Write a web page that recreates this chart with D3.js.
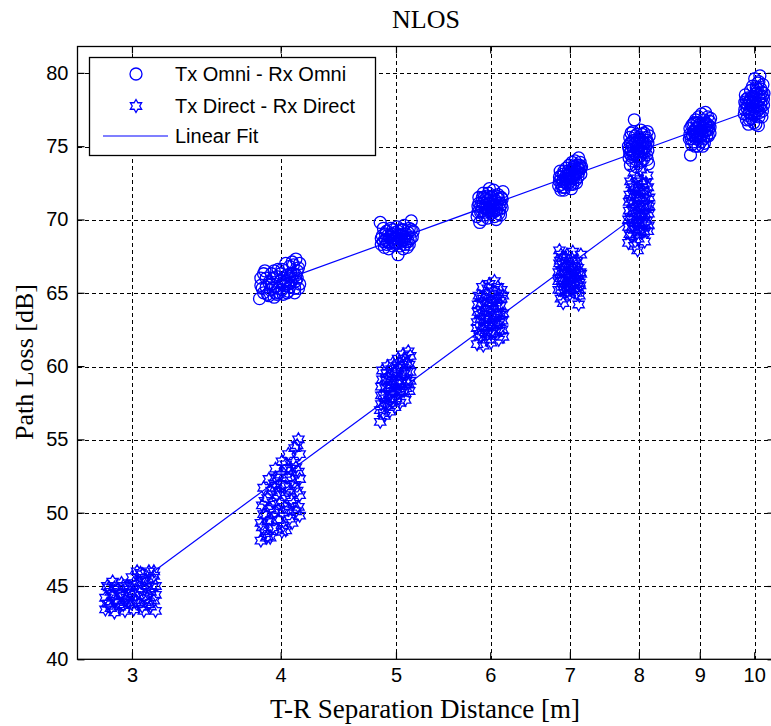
<!DOCTYPE html>
<html>
<head>
<meta charset="utf-8">
<script src="https://cdn.jsdelivr.net/npm/d3@7"></script>
<style>
  body { margin: 0; background: #fff; }
  svg { display: block; }
</style>
</head>
<body>
<div id="canvas"></div>
<script>
// axis ticks
var xTicks = [3, 4, 5, 6, 7, 8, 9, 10];
var yTicks = [40, 45, 50, 55, 60, 65, 70, 75, 80];
var xDomain = [2.7, 10.4];
var yDomain = [40, 81.8];

// Tx Omni - Rx Omni measurements [distance m, path loss dB]
var omni4 = [[3.84,64.6],[3.86,65.3],[3.85,66.0],[3.88,66.5],[3.90,64.9],[3.91,65.7],[3.93,66.3],[3.95,64.7],[3.96,65.4],[3.97,66.1],[3.99,65.0],[4.00,65.8],[4.01,66.6],[4.02,64.9],[4.03,65.5],[4.05,66.2],[4.06,65.1],[4.07,66.8],[4.08,65.7],[4.09,67.1],[4.10,66.3],[4.11,65.3],[4.12,67.3],[4.13,66.0],[4.14,66.7],[4.15,65.6],[4.15,67.0],[3.87,65.0],[3.92,65.2],[3.98,66.6],[4.04,67.0],[4.11,65.0],[3.89,66.0],[3.94,66.0],[4.06,65.6],
	[3.85,65.5],[3.87,66.3],[3.89,65.4],[3.91,64.8],[3.93,65.6],[3.95,66.5],[3.96,65.0],[3.98,65.3],[4.00,66.3],[4.01,65.2],[4.03,66.0],[4.04,65.8],[4.05,65.0],[4.07,65.4],[4.08,66.3],[4.09,65.9],[4.10,66.9],[4.12,65.8],[4.13,66.5],[4.14,65.3],[4.12,66.2],[3.94,65.3],[4.02,65.7],[3.97,64.9],[4.07,66.1]];
var omni5 = [[4.85,69.8],[4.86,68.3],[4.87,68.9],[4.89,68.1],[4.90,68.6],[4.91,69.2],[4.93,68.0],[4.94,68.8],[4.95,69.4],[4.97,68.2],[4.98,68.7],[4.99,69.1],[5.00,68.4],[5.01,69.5],[5.02,67.6],[5.03,68.9],[5.04,68.2],[5.05,69.3],[5.06,68.6],[5.08,69.6],[5.09,68.3],[5.10,69.0],[5.12,68.5],[5.13,69.4],[5.15,69.9],[5.16,68.8],[5.17,69.2],[4.92,68.5],[4.96,69.0],[5.07,68.0],[5.11,68.1],[4.88,69.4],
	[4.86,68.7],[4.88,68.5],[4.90,69.0],[4.92,68.9],[4.94,68.4],[4.95,68.9],[4.97,69.3],[4.98,68.5],[5.00,68.9],[5.01,68.7],[5.02,69.2],[5.03,68.4],[5.05,68.9],[5.06,69.0],[5.07,69.3],[5.09,68.8],[5.10,68.5],[5.12,69.1],[5.14,68.7],[5.15,69.3],[4.91,68.3],[4.99,68.3],[5.04,68.7],[5.08,68.6],[5.13,68.3]];
var omni6 = [[5.85,70.2],[5.86,70.9],[5.87,71.5],[5.88,69.8],[5.89,70.5],[5.90,71.2],[5.92,71.8],[5.93,70.3],[5.94,70.8],[5.95,71.4],[5.97,70.1],[5.98,70.7],[5.99,72.1],[6.00,71.1],[6.01,70.4],[6.02,71.6],[6.03,70.9],[6.04,72.0],[6.05,70.2],[6.06,71.3],[6.08,70.7],[6.09,71.7],[6.10,70.4],[6.11,71.1],[6.13,71.5],[6.14,70.8],[6.15,71.9],[5.91,70.0],[5.96,71.6],[6.07,70.0],[6.12,70.3],
	[5.86,70.5],[5.87,71.1],[5.89,70.9],[5.90,70.6],[5.92,71.1],[5.93,71.5],[5.94,70.5],[5.96,70.8],[5.97,71.3],[5.99,70.6],[6.00,70.9],[6.01,71.5],[6.02,70.6],[6.03,71.2],[6.05,71.0],[6.06,70.6],[6.07,71.6],[6.08,71.1],[6.10,71.4],[6.11,70.7],[6.13,71.0],[6.14,71.4],[5.91,71.5],[6.04,70.5],[5.98,71.8]];
var omni7 = [[6.85,72.3],[6.86,72.9],[6.87,73.3],[6.88,72.0],[6.90,72.6],[6.91,73.1],[6.93,72.2],[6.94,72.8],[6.95,73.5],[6.97,72.4],[6.98,73.0],[6.99,73.7],[7.00,72.6],[7.01,73.3],[7.02,72.1],[7.03,73.9],[7.05,72.8],[7.06,73.4],[7.07,74.0],[7.08,73.1],[7.10,73.7],[7.11,72.9],[7.12,74.2],[7.13,73.4],[7.14,73.9],[7.15,73.1],[7.16,73.6],[6.92,72.0],[7.04,72.4],[7.09,72.5],
	[6.86,72.6],[6.88,72.9],[6.89,72.4],[6.91,72.7],[6.92,73.3],[6.94,72.5],[6.95,73.0],[6.96,72.7],[6.98,73.3],[6.99,72.8],[7.00,73.1],[7.02,72.9],[7.03,73.4],[7.04,73.0],[7.06,73.0],[7.07,73.6],[7.08,72.7],[7.09,73.3],[7.11,73.5],[7.12,73.2],[7.13,73.7],[7.15,73.5],[6.90,72.2],[7.05,73.6],[7.01,72.4]];
var omni8 = [[7.84,75.0],[7.85,74.2],[7.86,75.6],[7.87,73.7],[7.88,74.7],[7.89,75.3],[7.90,74.0],[7.91,76.0],[7.93,76.8],[7.94,74.5],[7.95,75.2],[7.96,73.6],[7.97,75.8],[7.98,74.3],[7.99,75.0],[8.00,74.8],[8.01,75.5],[8.02,73.9],[8.03,76.1],[8.05,74.6],[8.06,75.3],[8.07,74.1],[8.08,75.9],[8.10,74.9],[8.11,75.6],[8.12,74.4],[8.13,76.0],[8.14,75.2],[8.15,73.8],[8.16,75.7],[7.92,74.4],[8.04,74.0],
	[7.85,74.8],[7.86,74.5],[7.87,75.2],[7.88,75.9],[7.90,75.0],[7.91,74.6],[7.92,75.4],[7.94,75.7],[7.95,74.1],[7.96,74.9],[7.97,75.3],[7.99,74.6],[8.00,75.6],[8.01,74.3],[8.02,75.0],[8.04,75.4],[8.05,75.8],[8.06,74.9],[8.08,74.6],[8.09,75.2],[8.11,75.0],[8.12,75.4],[8.14,74.7],[7.89,74.3],[8.03,74.7],[8.13,74.1]];
var omni9 = [[8.82,75.5],[8.83,76.2],[8.84,74.4],[8.86,75.1],[8.87,75.8],[8.88,76.5],[8.90,75.3],[8.91,76.0],[8.93,76.8],[8.94,75.5],[8.95,76.3],[8.97,75.0],[8.98,77.0],[8.99,75.9],[9.00,76.5],[9.02,75.3],[9.03,77.2],[9.04,76.0],[9.06,75.6],[9.07,76.8],[9.08,75.2],[9.10,77.3],[9.11,76.4],[9.12,75.7],[9.14,77.0],[9.15,76.1],[9.17,76.7],[9.18,75.9],[9.19,76.9],[8.92,75.0],[9.05,75.0],
	[8.83,75.8],[8.85,75.5],[8.86,76.4],[8.88,75.7],[8.89,76.0],[8.90,76.6],[8.92,75.7],[8.93,76.2],[8.95,75.8],[8.96,76.6],[8.97,75.6],[8.99,76.3],[9.00,75.6],[9.01,76.1],[9.03,75.8],[9.04,76.5],[9.06,76.2],[9.07,75.5],[9.09,76.0],[9.10,76.6],[9.12,76.1],[9.13,76.5],[9.15,75.7],[9.16,76.4],[9.18,76.3]];
var omni10 = [[9.81,77.2],[9.82,78.0],[9.83,78.5],[9.85,76.8],[9.86,77.6],[9.88,78.3],[9.89,76.5],[9.91,77.3],[9.92,78.1],[9.93,78.8],[9.95,76.9],[9.96,77.8],[9.97,79.1],[9.98,78.4],[10.00,77.1],[10.01,79.6],[10.02,78.0],[10.03,76.5],[10.05,78.6],[10.06,77.4],[10.07,79.3],[10.08,76.4],[10.10,78.2],[10.11,79.8],[10.12,77.6],[10.13,78.9],[10.15,77.0],[10.16,78.4],[10.17,79.2],[10.18,77.8],[10.19,78.6],[9.99,76.6],[10.09,77.0],
	[9.82,77.5],[9.84,77.9],[9.85,78.2],[9.87,77.1],[9.88,77.8],[9.90,78.0],[9.91,76.8],[9.93,77.5],[9.94,78.3],[9.96,77.2],[9.97,78.0],[9.99,77.7],[10.00,78.3],[10.02,77.4],[10.03,78.6],[10.04,77.8],[10.06,78.9],[10.07,77.7],[10.09,78.5],[10.10,77.3],[10.12,78.4],[10.13,77.9],[10.15,78.7],[10.16,77.4],[10.18,78.2],[10.04,79.0],[10.09,79.4]];

// Tx Direct - Rx Direct measurements [distance m, path loss dB]
var direct3 = [[2.85,43.4],[2.85,44.2],[2.86,45.0],[2.87,43.8],[2.88,44.6],[2.89,45.3],[2.90,43.2],[2.91,44.0],[2.92,44.8],[2.93,43.6],[2.94,45.2],[2.95,44.3],[2.96,43.3],[2.97,45.0],[2.98,43.9],[2.99,44.6],[3.00,45.6],[3.01,43.4],[3.02,44.4],[3.03,45.1],[3.04,43.8],[3.05,45.9],[3.06,44.8],[3.07,43.3],[3.08,45.4],[3.09,44.2],[3.10,46.0],[3.11,43.6],[3.12,44.9],[3.13,45.7],[3.14,43.3],[3.14,44.4],[3.03,46.0],[3.08,43.9],[2.87,44.9],[2.96,44.0],
	[2.86,43.8],[2.88,43.5],[2.89,44.3],[2.90,44.9],[2.92,43.9],[2.93,44.4],[2.95,43.7],[2.95,45.0],[2.97,44.2],[2.98,44.9],[3.00,43.8],[3.00,44.5],[3.01,45.2],[3.02,43.9],[3.04,44.6],[3.05,45.3],[3.06,43.6],[3.07,44.3],[3.09,45.0],[3.10,43.8],[3.11,44.6],[3.12,45.4],[3.13,44.0],[3.14,45.0],[3.13,46.0],[3.06,45.8]];
var direct4 = [[3.85,48.1],[3.85,49.3],[3.86,50.5],[3.87,51.7],[3.88,48.6],[3.89,49.8],[3.90,51.0],[3.91,52.3],[3.92,48.3],[3.93,49.5],[3.94,50.7],[3.95,52.0],[3.96,53.0],[3.97,48.9],[3.98,50.2],[3.99,51.4],[4.00,52.6],[4.01,53.5],[4.02,49.1],[4.03,50.4],[4.04,51.8],[4.05,53.0],[4.06,54.0],[4.07,49.6],[4.08,50.9],[4.09,52.2],[4.10,53.4],[4.11,54.4],[4.12,50.1],[4.13,51.5],[4.14,52.8],[4.14,55.0],[4.15,54.0],[4.15,49.8],[3.97,51.2],[4.04,48.8],[3.90,48.4],
	[3.86,49.0],[3.87,49.9],[3.88,50.8],[3.89,48.3],[3.90,49.4],[3.92,50.3],[3.93,51.5],[3.94,49.0],[3.95,50.0],[3.96,51.7],[3.98,49.5],[3.99,50.6],[4.00,51.9],[4.01,48.7],[4.02,50.0],[4.03,51.2],[4.05,52.4],[4.06,50.2],[4.07,51.5],[4.08,53.0],[4.09,49.3],[4.10,50.6],[4.11,51.9],[4.12,53.1],[4.13,54.6],[4.14,50.4],[4.15,51.2],[4.15,52.3],[3.96,52.4],[4.04,53.3]];
var direct5 = [[4.85,56.2],[4.86,57.4],[4.86,58.6],[4.87,59.7],[4.89,56.6],[4.90,57.8],[4.91,59.0],[4.92,60.0],[4.94,56.9],[4.95,58.1],[4.96,59.3],[4.97,60.2],[4.99,57.2],[5.00,58.4],[5.01,59.6],[5.02,60.5],[5.04,57.5],[5.05,58.8],[5.06,59.9],[5.07,60.8],[5.09,57.7],[5.10,59.0],[5.11,60.2],[5.12,61.0],[5.13,58.3],[5.14,59.6],[5.14,60.7],[4.88,58.0],[4.98,58.9],[5.08,58.3],[4.93,58.5],[5.03,59.0],
	[4.85,57.0],[4.86,58.0],[4.87,59.1],[4.88,56.8],[4.89,57.5],[4.90,58.5],[4.91,59.5],[4.92,57.3],[4.93,59.2],[4.94,57.7],[4.95,58.7],[4.96,59.8],[4.97,57.6],[4.98,58.3],[4.99,59.6],[5.00,57.8],[5.01,59.0],[5.02,59.9],[5.03,58.2],[5.04,60.2],[5.05,58.2],[5.06,59.3],[5.08,59.5],[5.09,60.5],[5.10,58.5],[5.11,59.6],[5.12,58.8],[5.13,60.1],[5.14,59.0],[5.07,60.3]];
var direct6 = [[5.85,61.5],[5.85,62.6],[5.86,63.7],[5.87,64.8],[5.88,62.0],[5.89,63.2],[5.90,64.3],[5.91,65.4],[5.92,61.4],[5.93,62.7],[5.94,63.8],[5.95,64.9],[5.97,62.2],[5.98,63.3],[5.99,65.6],[6.00,64.4],[6.01,61.6],[6.02,62.8],[6.03,63.9],[6.04,65.1],[6.05,65.8],[6.06,62.3],[6.07,63.5],[6.08,64.6],[6.10,61.8],[6.11,63.0],[6.12,64.1],[6.13,65.2],[6.14,62.5],[6.15,63.6],[6.15,64.8],[5.96,61.8],[6.09,65.4],
	[5.85,63.0],[5.86,64.2],[5.87,62.2],[5.88,63.5],[5.89,64.7],[5.90,62.4],[5.91,63.6],[5.92,64.6],[5.93,63.2],[5.94,62.3],[5.95,63.4],[5.96,64.3],[5.97,65.3],[5.98,62.7],[5.99,64.0],[6.00,63.0],[6.01,62.2],[6.02,64.3],[6.03,62.4],[6.04,63.3],[6.05,64.5],[6.06,63.0],[6.07,64.1],[6.08,62.8],[6.09,63.6],[6.10,64.9],[6.11,62.4],[6.12,63.5],[6.13,64.6],[6.14,63.1],[6.15,62.0]];
var direct7 = [[6.85,65.2],[6.85,66.4],[6.86,67.9],[6.87,67.2],[6.88,64.6],[6.89,65.8],[6.90,66.9],[6.92,65.4],[6.93,66.3],[6.94,67.4],[6.96,65.1],[6.97,66.0],[6.98,66.8],[7.00,64.9],[7.01,65.7],[7.02,66.6],[7.03,67.3],[7.05,65.3],[7.06,66.2],[7.07,67.0],[7.09,65.0],[7.10,65.9],[7.11,66.7],[7.12,64.2],[7.13,64.8],[7.14,65.5],[7.15,66.3],[7.15,67.6],[6.91,64.3],[7.04,67.8],
	[6.85,65.8],[6.86,67.0],[6.87,66.0],[6.88,65.2],[6.89,66.5],[6.90,67.4],[6.91,65.8],[6.92,66.7],[6.93,65.0],[6.94,66.0],[6.95,66.8],[6.96,67.6],[6.97,65.5],[6.98,66.3],[7.00,65.4],[7.01,66.3],[7.02,65.2],[7.03,66.0],[7.04,66.8],[7.05,65.8],[7.06,66.6],[7.07,65.6],[7.08,66.4],[7.09,67.2],[7.10,65.4],[7.11,66.2],[7.13,65.7],[7.14,66.4],[6.88,67.6],[7.12,65.2]];
var direct8 = [[7.84,68.4],[7.84,69.5],[7.85,70.6],[7.86,71.7],[7.87,72.6],[7.88,68.9],[7.89,70.0],[7.90,71.1],[7.91,72.2],[7.93,68.2],[7.94,69.3],[7.95,70.4],[7.96,71.5],[7.97,72.8],[7.99,68.7],[8.00,69.8],[8.01,70.9],[8.02,72.0],[8.04,69.1],[8.05,70.2],[8.06,71.3],[8.07,72.4],[8.09,68.5],[8.10,69.6],[8.11,70.7],[8.12,71.8],[8.13,73.0],[8.14,69.2],[8.15,70.4],[8.16,71.5],[7.92,73.2],[8.03,73.4],[7.98,67.9],
	[7.84,70.0],[7.85,71.2],[7.86,69.0],[7.87,70.2],[7.88,71.4],[7.89,72.4],[7.90,69.5],[7.91,70.6],[7.92,71.7],[7.93,69.8],[7.94,70.8],[7.95,72.0],[7.96,69.0],[7.97,70.2],[7.98,71.3],[7.99,72.2],[8.00,70.4],[8.01,69.3],[8.02,71.5],[8.03,70.3],[8.04,72.6],[8.05,69.7],[8.06,70.8],[8.07,71.9],[8.08,69.2],[8.09,70.4],[8.10,71.4],[8.11,72.5],[8.12,69.9],[8.13,71.0],[8.14,72.2],[8.15,69.6],[8.16,70.9]];

// linear fits (end points)
var fitOmniD = [4, 10];
var fitOmniPL = [65.8, 77.5];
var fitDirectD = [3, 8];
var fitDirectPL = [44.9, 70.4];

var legendLabels = ["Tx Omni - Rx Omni", "Tx Direct - Rx Direct", "Linear Fit"];

var blue = "#0000ff";
var margin = { top: 46.5, left: 77.5 },
	width = 697,
	height = 612.8;

var svg = d3.select("#canvas")
	.append("svg")
	.attr("width", 771)
	.attr("height", 726);

var g = svg.append("g")
	.attr("transform", "translate(" + margin.left + "," + margin.top + ")");

var x = d3.scaleLog().domain(xDomain).range([0, width]);
var y = d3.scaleLinear().domain(yDomain).range([height, 0]);

// grid lines
g.append("g").selectAll("line")
	.data(xTicks)
	.join("line")
	.attr("x1", d => Math.round(x(d)) + 0.5).attr("x2", d => Math.round(x(d)) + 0.5)
	.attr("y1", 0).attr("y2", height)
	.attr("stroke", "#000").attr("stroke-dasharray", "4,3")
	.attr("shape-rendering", "crispEdges");
g.append("g").selectAll("line")
	.data(yTicks.filter(d => d > 40))
	.join("line")
	.attr("y1", d => Math.round(y(d)) + 0.5).attr("y2", d => Math.round(y(d)) + 0.5)
	.attr("x1", 0).attr("x2", width)
	.attr("stroke", "#000").attr("stroke-dasharray", "4,3")
	.attr("shape-rendering", "crispEdges");

// axes with inner ticks
var fmt = d3.format("d");
var xAxis = g.append("g")
	.attr("transform", "translate(0," + height + ")")
	.call(d3.axisBottom(x).tickValues(xTicks).tickFormat(fmt).tickSizeInner(-7).tickSizeOuter(0).tickPadding(9));
var xTop = g.append("g")
	.call(d3.axisTop(x).tickValues(xTicks).tickFormat("").tickSizeInner(-7).tickSizeOuter(0));
var yAxis = g.append("g")
	.call(d3.axisLeft(y).tickValues(yTicks).tickFormat(fmt).tickSizeInner(-7).tickSizeOuter(0).tickPadding(9));
var yRight = g.append("g")
	.attr("transform", "translate(" + width + ",0)")
	.call(d3.axisRight(y).tickValues(yTicks).tickFormat("").tickSizeInner(-7).tickSizeOuter(0));

[xAxis, xTop, yAxis, yRight].forEach(function(a) {
	a.select(".domain").remove();
	a.selectAll("line").attr("stroke", "#000").attr("stroke-width", 1.2);
	a.selectAll("text")
		.attr("fill", "#000")
		.style("font-family", "Liberation Sans, Arial, sans-serif")
		.style("font-size", "20px");
});

// frame
g.append("rect")
	.attr("width", width).attr("height", height)
	.attr("fill", "none").attr("stroke", "#000").attr("stroke-width", 1.3);

// clip region for data
svg.append("clipPath").attr("id", "clip")
	.append("rect").attr("width", width).attr("height", height);
var plot = g.append("g").attr("clip-path", "url(#clip)");

// hexagram marker (MATLAB 'h')
function hexagram(R) {
	var pts = [];
	var r = R / Math.sqrt(3);
	for (var i = 0; i < 12; i++) {
		var a = -Math.PI / 2 + i * Math.PI / 6;
		var rr = i % 2 == 0 ? R : r;
		pts.push([rr * Math.cos(a), rr * Math.sin(a)]);
	}
	return "M" + pts.map(p => p[0].toFixed(2) + "," + p[1].toFixed(2)).join("L") + "Z";
}
var starPath = hexagram(6.5);

var omniData = [].concat(omni4, omni5, omni6, omni7, omni8, omni9, omni10);
var directData = [].concat(direct3, direct4, direct5, direct6, direct7, direct8);

plot.append("g").selectAll("circle")
	.data(omniData)
	.join("circle")
	.attr("cx", d => x(d[0]))
	.attr("cy", d => y(d[1]))
	.attr("r", 6)
	.attr("fill", "none")
	.attr("stroke", blue)
	.attr("stroke-width", 1.3);

plot.append("g").selectAll("path")
	.data(directData)
	.join("path")
	.attr("transform", d => "translate(" + x(d[0]) + "," + y(d[1]) + ")")
	.attr("d", starPath)
	.attr("fill", "none")
	.attr("stroke", blue)
	.attr("stroke-width", 1.3);

// fit lines
var line = d3.line().x(d => x(d[0])).y(d => y(d[1]));
plot.append("path")
	.datum(d3.zip(fitOmniD, fitOmniPL))
	.attr("d", line)
	.attr("fill", "none").attr("stroke", blue).attr("stroke-width", 1.2);
plot.append("path")
	.datum(d3.zip(fitDirectD, fitDirectPL))
	.attr("d", line)
	.attr("fill", "none").attr("stroke", blue).attr("stroke-width", 1.2);

// legend
var legend = svg.append("g");
legend.append("rect")
	.attr("x", 89.5).attr("y", 57.5)
	.attr("width", 286).attr("height", 98)
	.attr("fill", "#fff").attr("stroke", "#000").attr("stroke-width", 1.3);
var rowY = [74, 106, 136];
legend.append("circle")
	.attr("cx", 136).attr("cy", rowY[0]).attr("r", 6)
	.attr("fill", "none").attr("stroke", blue).attr("stroke-width", 1.3);
legend.append("path")
	.attr("transform", "translate(136," + rowY[1] + ")")
	.attr("d", starPath)
	.attr("fill", "none").attr("stroke", blue).attr("stroke-width", 1.3);
legend.append("line")
	.attr("x1", 103).attr("x2", 168).attr("y1", rowY[2]).attr("y2", rowY[2])
	.attr("stroke", blue).attr("stroke-width", 1.2);
legend.selectAll("text")
	.data(legendLabels)
	.join("text")
	.attr("x", 175)
	.attr("y", (d, i) => rowY[i])
	.attr("dy", "0.36em")
	.style("font-family", "Liberation Sans, Arial, sans-serif")
	.style("font-size", "20px")
	.text(d => d);

// title and axis labels
svg.append("text")
	.attr("x", 426).attr("y", 28)
	.attr("text-anchor", "middle")
	.style("font-family", "Liberation Serif, Times New Roman, serif")
	.style("font-size", "26px")
	.text("NLOS");

svg.append("text")
	.attr("x", 425).attr("y", 718)
	.attr("text-anchor", "middle")
	.style("font-family", "Liberation Serif, Times New Roman, serif")
	.style("font-size", "27px")
	.text("T-R Separation Distance [m]");

svg.append("text")
	.attr("transform", "translate(33,362) rotate(-90)")
	.attr("text-anchor", "middle")
	.style("font-family", "Liberation Serif, Times New Roman, serif")
	.style("font-size", "26px")
	.text("Path Loss [dB]");
</script>
</body>
</html>
